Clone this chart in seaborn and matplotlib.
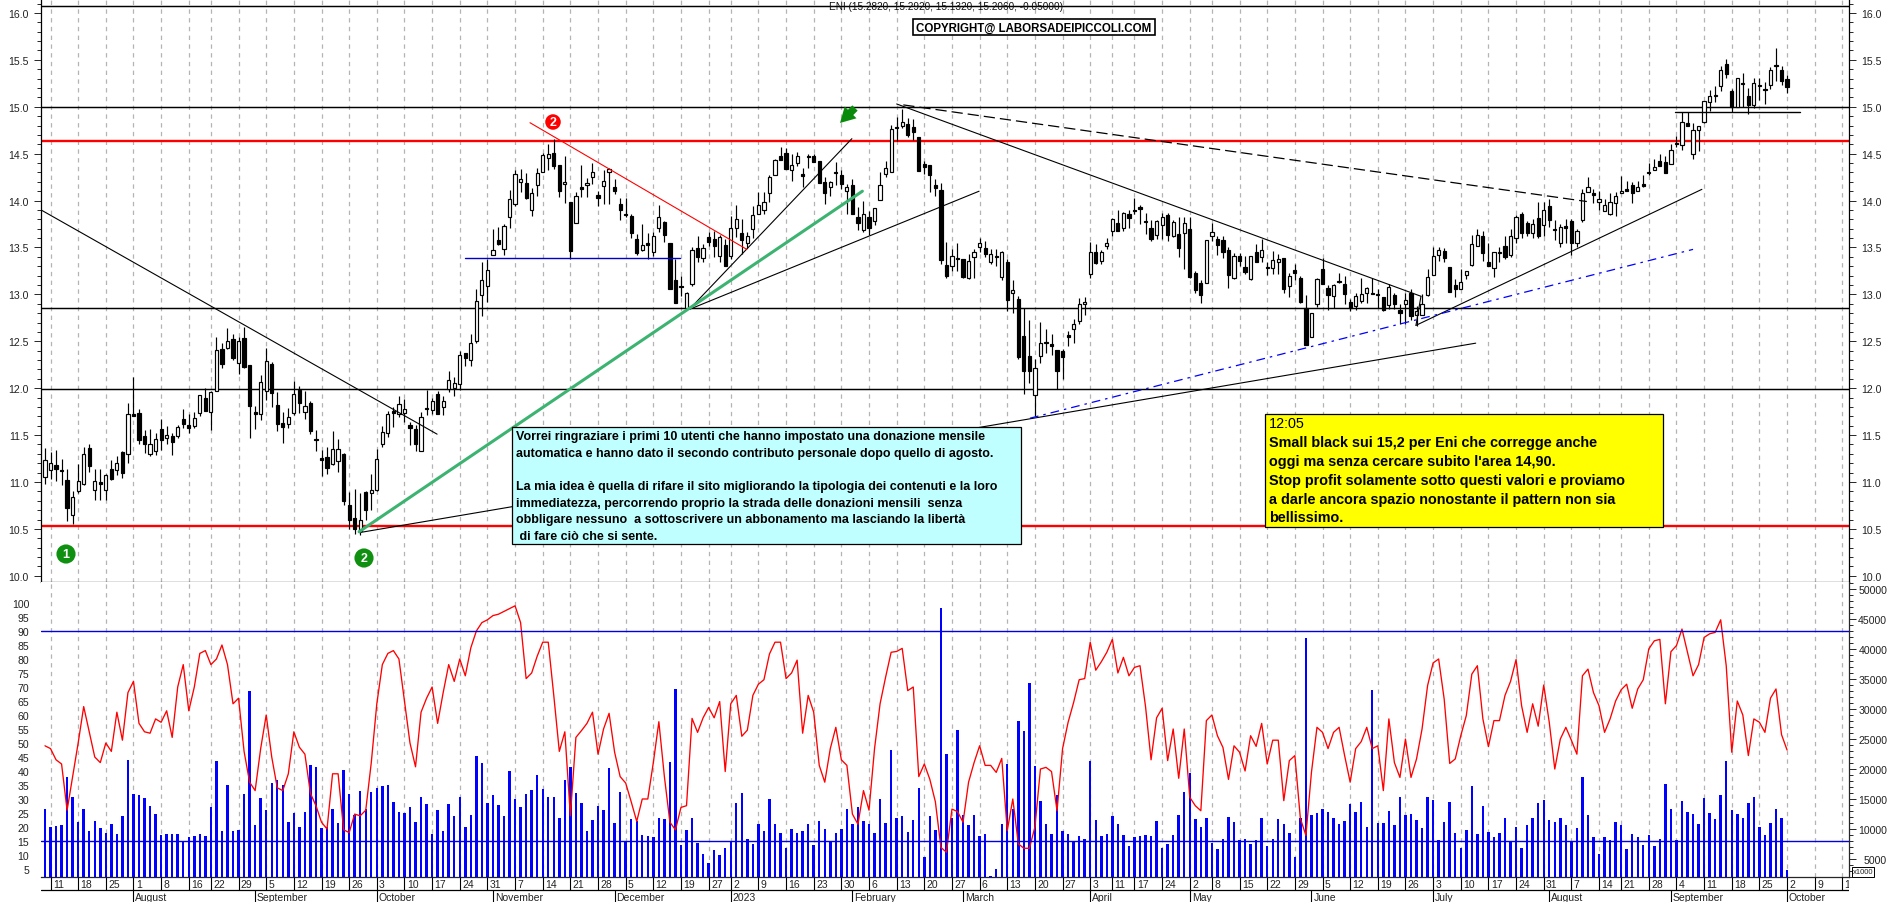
import numpy as np
import pandas as pd
import matplotlib
matplotlib.use("Agg")
import matplotlib.pyplot as plt
from matplotlib.patches import Rectangle
from matplotlib.ticker import MultipleLocator
import seaborn as sns

# candles (W = white body, B = black body)
kinds = ("WWBBBWWWBW" "BWBWBWBBBW" "WBWBWBBWWB" "WWBWBWBBBW" "WBBBWWBWBB"
         "BBWWBBBWBW" "WWWBWWBBWB" "WBWWWWBWWW" "WWBWWWWBWW" "WWBBWBWBWW"
         "BWWBBBBBWB" "WWBBBBWWBW" "BBWBWWBWWW" "WWWBBWWBBB" "BBWBBWBBWB"
         "WWWWBWBBBB" "BBBBWBBWWW" "BWBWBWBBBW" "WBBBBBWWWW" "BWWWBWBBBB"
         "BWWBWBWBBB" "WWBBBWBBWB" "WBWWBWBBBW" "WBBWBBBWWW" "BBBWBBWBWW"
         "WWWBBBWWWW" "BBWWBWWBBW" "BWBBWBBWWW" "BWWWWWBBWB" "BWBBWBWBWW"
         "WWWWBBWBBW" "WBWBBB")
body_top = [11.23,11.20,11.18,11.13,11.02,10.84,11.01,11.30,11.36,11.01,
            11.00,11.07,11.14,11.20,11.32,11.72,11.72,11.74,11.49,11.40,
            11.46,11.56,11.50,11.49,11.59,11.67,11.61,11.68,11.93,11.90,
            11.96,12.41,12.42,12.50,12.52,12.50,12.53,12.25,11.75,12.07,
            12.29,12.26,11.82,11.63,11.69,11.94,11.98,11.81,11.84,11.46,
            11.26,11.27,11.35,11.35,11.30,10.75,10.62,10.60,10.89,10.91,
            11.25,11.53,11.73,11.76,11.83,11.78,11.61,11.56,11.69,11.79,
            11.86,11.94,11.86,12.09,12.06,12.35,12.37,12.48,12.93,13.15,
            13.26,13.47,13.58,13.73,14.02,14.28,14.23,14.19,14.08,14.29,
            14.49,14.50,14.51,14.38,14.20,13.98,14.05,14.14,14.19,14.30,
            14.06,14.21,14.34,14.15,13.96,13.86,13.84,13.59,13.53,13.55,
            13.62,13.82,13.77,13.55,13.15,13.09,13.02,13.47,13.49,13.49,
            13.61,13.59,13.61,13.53,13.71,13.80,13.65,13.62,13.85,13.95,
            13.99,14.25,14.43,14.47,14.51,14.38,14.47,14.28,14.47,14.47,
            14.42,14.20,14.20,14.30,14.27,14.15,14.17,13.83,13.86,13.83,
            13.92,14.17,14.35,14.76,14.78,14.84,14.82,14.78,14.68,14.39,
            14.38,14.17,14.11,13.31,13.41,13.39,13.38,13.36,13.45,13.55,
            13.49,13.43,13.41,13.45,13.34,13.05,12.95,12.56,12.34,12.22,
            12.48,12.49,12.47,12.41,12.40,12.56,12.68,12.90,12.92,13.45,
            13.45,13.45,13.55,13.80,13.76,13.87,13.86,13.90,13.93,13.78,
            13.71,13.78,13.83,13.85,13.77,13.64,13.76,13.70,13.23,13.12,
            13.58,13.66,13.59,13.58,13.47,13.41,13.41,13.29,13.41,13.45,
            13.47,13.29,13.37,13.38,13.39,13.20,13.26,13.17,12.85,12.80,
            13.16,13.27,13.07,13.10,13.14,13.11,12.92,12.98,13.00,13.07,
            13.02,13.00,12.97,13.08,12.99,12.83,12.94,13.02,12.82,12.90,
            13.19,13.41,13.47,13.46,13.29,13.10,13.13,13.25,13.54,13.63,
            13.62,13.34,13.45,13.45,13.52,13.62,13.82,13.86,13.76,13.75,
            13.81,13.90,13.94,13.70,13.72,13.73,13.78,13.68,14.08,14.14,
            14.08,14.02,13.95,13.99,14.05,14.10,14.12,14.17,14.14,14.18,
            14.30,14.36,14.42,14.41,14.54,14.61,14.84,14.83,14.75,14.80,
            15.06,15.11,15.13,15.39,15.46,15.17,15.31,15.25,15.12,15.25,
            15.23,15.19,15.39,15.45,15.39,15.30]
body_bot = [11.05,11.13,11.14,11.12,10.72,10.65,10.90,10.98,11.17,10.92,
            10.98,10.92,11.03,11.13,11.10,11.30,11.70,11.45,11.41,11.30,
            11.33,11.45,11.47,11.43,11.49,11.62,11.58,11.60,11.74,11.76,
            11.75,11.97,12.26,12.43,12.32,12.27,12.23,11.81,11.73,11.73,
            11.97,11.95,11.62,11.59,11.62,11.74,11.84,11.75,11.54,11.45,
            11.23,11.15,11.19,11.22,10.80,10.60,10.50,10.48,10.70,10.88,
            10.91,11.40,11.52,11.74,11.72,11.74,11.58,11.41,11.33,11.78,
            11.77,11.73,11.80,11.99,12.00,12.05,12.32,12.30,12.50,12.99,
            13.09,13.42,13.54,13.48,13.82,13.96,14.20,14.03,13.90,14.17,
            14.31,14.45,14.37,14.10,14.18,13.46,13.76,14.12,14.17,14.25,
            14.03,14.16,14.31,14.10,13.90,13.85,13.65,13.44,13.47,13.53,
            13.45,13.71,13.63,13.06,12.91,13.08,12.85,13.11,13.40,13.39,
            13.56,13.52,13.41,13.30,13.41,13.71,13.58,13.55,13.70,13.86,
            13.90,14.08,14.27,14.43,14.34,14.33,14.40,14.26,14.46,14.41,
            14.19,14.08,14.15,14.29,14.18,14.10,13.86,13.76,13.69,13.71,
            13.78,14.01,14.28,14.31,14.77,14.80,14.70,14.73,14.32,14.36,
            14.27,14.13,13.37,13.20,13.30,13.38,13.19,13.17,13.40,13.50,
            13.43,13.34,13.40,13.19,12.94,13.02,12.33,12.18,12.18,11.93,
            12.34,12.48,12.45,12.18,12.33,12.55,12.63,12.72,12.90,13.22,
            13.33,13.36,13.52,13.68,13.68,13.71,13.81,13.89,13.91,13.77,
            13.59,13.63,13.74,13.63,13.62,13.49,13.65,13.19,13.05,12.99,
            13.12,13.62,13.53,13.45,13.21,13.18,13.36,13.24,13.16,13.35,
            13.40,13.28,13.28,13.34,13.06,13.09,13.23,12.92,12.46,12.55,
            12.90,13.11,12.99,12.98,13.13,13.00,12.85,12.88,12.93,13.02,
            13.00,12.99,12.83,12.89,12.90,12.80,12.90,12.77,12.78,12.78,
            12.99,13.21,13.42,13.39,13.03,13.06,13.06,13.21,13.31,13.52,
            13.44,13.30,13.28,13.44,13.40,13.42,13.60,13.65,13.65,13.65,
            13.62,13.74,13.79,13.69,13.55,13.71,13.55,13.55,13.79,14.09,
            14.06,13.99,13.89,13.86,13.97,14.08,14.10,14.08,14.10,14.16,
            14.29,14.33,14.37,14.29,14.39,14.60,14.59,14.80,14.50,14.75,
            14.84,15.05,15.11,15.22,15.35,15.00,15.00,15.24,15.02,15.02,
            15.22,15.18,15.23,15.43,15.27,15.21]
high = [11.36,11.32,11.34,11.24,11.14,10.90,11.19,11.37,11.41,11.14,
        11.14,11.09,11.23,11.28,11.33,11.84,12.12,11.78,11.55,11.57,
        11.52,11.67,11.60,11.52,11.61,11.78,11.73,11.75,11.93,12.00,
        11.97,12.55,12.48,12.64,12.58,12.55,12.65,12.25,11.81,12.14,
        12.43,12.28,11.96,11.75,11.79,12.08,12.02,11.97,11.86,11.55,
        11.34,11.37,11.54,11.46,11.31,10.89,10.93,10.88,10.90,11.08,
        11.35,11.60,11.76,11.80,11.92,11.88,11.64,11.61,11.75,11.98,
        11.90,11.97,11.92,12.18,12.12,12.40,12.38,12.58,13.06,13.35,
        13.38,13.70,13.72,13.75,14.11,14.33,14.34,14.29,14.13,14.35,
        14.51,14.60,14.66,14.38,14.48,13.99,14.09,14.38,14.24,14.40,
        14.10,14.33,14.35,14.23,14.03,14.03,13.86,13.64,13.75,13.65,
        13.66,13.95,13.78,13.55,13.38,13.20,13.03,13.50,13.62,13.54,
        13.66,13.68,13.63,13.59,13.84,13.95,13.80,13.66,13.94,14.09,
        14.09,14.27,14.44,14.57,14.56,14.50,14.52,14.35,14.50,14.50,
        14.42,14.25,14.21,14.41,14.33,14.18,14.23,13.93,14.00,13.89,
        13.92,14.30,14.42,14.81,14.89,14.98,14.88,14.87,14.68,14.42,
        14.38,14.23,14.19,13.56,13.48,13.55,13.38,13.43,13.48,13.60,
        13.57,13.48,13.48,13.46,13.38,13.15,12.98,12.85,12.73,12.31,
        12.71,12.63,12.58,12.41,12.42,12.61,12.74,12.96,12.97,13.56,
        13.54,13.47,13.60,13.81,13.90,13.88,13.90,14.03,13.95,13.87,
        13.79,13.79,13.87,13.87,13.79,13.82,13.83,13.82,13.25,13.15,
        13.58,13.76,13.62,13.62,13.50,13.44,13.44,13.41,13.41,13.54,
        13.59,13.35,13.46,13.43,13.39,13.23,13.32,13.20,12.99,12.80,
        13.17,13.39,13.10,13.11,13.23,13.20,12.95,13.01,13.18,13.08,
        13.18,13.06,12.97,13.11,13.01,12.90,13.02,13.06,12.88,13.00,
        13.27,13.51,13.50,13.49,13.29,13.16,13.27,13.25,13.63,13.70,
        13.68,13.55,13.45,13.50,13.62,13.70,13.85,13.88,13.78,13.80,
        13.98,13.98,14.02,13.79,13.75,13.80,13.80,13.70,14.12,14.25,
        14.12,14.10,14.02,14.08,14.09,14.26,14.21,14.20,14.21,14.27,
        14.40,14.44,14.50,14.48,14.60,14.69,14.94,14.94,14.83,14.80,
        15.06,15.18,15.22,15.44,15.51,15.19,15.31,15.36,15.20,15.31,
        15.31,15.26,15.42,15.63,15.43,15.34]
low = [10.98,11.03,11.01,10.97,10.58,10.55,10.88,10.97,11.11,10.81,
       10.81,10.81,11.02,11.07,11.04,11.20,11.70,11.40,11.31,11.28,
       11.29,11.34,11.41,11.29,11.47,11.58,11.52,11.58,11.70,11.76,
       11.55,11.97,12.22,12.42,12.30,12.15,12.22,11.47,11.57,11.66,
       11.87,11.80,11.54,11.42,11.58,11.71,11.74,11.67,11.51,11.33,
       11.06,11.08,11.18,11.11,10.75,10.50,10.45,10.44,10.60,10.70,
       10.90,11.37,11.48,11.59,11.69,11.64,11.39,11.33,11.33,11.71,
       11.73,11.73,11.71,11.96,11.92,11.98,12.24,12.24,12.48,12.77,
       12.92,13.42,13.53,13.42,13.71,13.94,14.09,14.02,13.84,14.05,
       14.31,14.33,14.34,14.04,13.97,13.38,13.76,14.04,14.04,14.18,
       13.94,13.96,13.96,14.07,13.79,13.82,13.60,13.42,13.46,13.38,
       13.41,13.67,13.56,13.06,12.91,12.98,12.84,13.09,13.34,13.34,
       13.52,13.40,13.35,13.30,13.38,13.61,13.43,13.49,13.60,13.86,
       13.86,13.98,14.27,14.43,14.34,14.21,14.37,14.15,14.35,14.41,
       14.19,13.96,14.05,14.17,14.12,13.86,13.86,13.69,13.67,13.63,
       13.74,14.01,14.25,14.31,14.64,14.77,14.68,14.65,14.32,14.28,
       14.09,14.05,13.32,13.17,13.25,13.25,13.18,13.16,13.17,13.45,
       13.40,13.32,13.30,13.15,12.82,12.80,12.31,11.94,12.06,11.70,
       12.27,12.38,12.35,11.99,12.10,12.45,12.48,12.68,12.78,13.17,
       13.32,13.32,13.48,13.62,13.68,13.68,13.71,13.86,13.75,13.64,
       13.57,13.59,13.59,13.57,13.61,13.40,13.27,13.18,13.02,12.91,
       13.12,13.57,13.42,13.39,13.07,13.16,13.30,13.22,13.15,13.34,
       13.34,13.21,13.22,13.22,13.02,12.97,13.15,12.91,12.46,12.55,
       12.87,13.11,12.83,12.85,13.12,12.90,12.82,12.83,12.91,12.91,
       13.00,12.86,12.82,12.84,12.84,12.68,12.68,12.73,12.66,12.78,
       12.98,13.21,13.36,13.34,13.03,12.97,13.06,13.16,13.30,13.52,
       13.36,13.30,13.19,13.34,13.38,13.40,13.55,13.60,13.62,13.60,
       13.60,13.62,13.72,13.58,13.50,13.55,13.42,13.50,13.77,14.09,
       13.97,13.90,13.89,13.85,13.84,14.08,14.10,13.97,14.10,14.15,
       14.27,14.33,14.37,14.29,14.39,14.57,14.54,14.80,14.44,14.53,
       14.83,14.96,15.05,15.17,15.31,14.94,15.00,15.00,14.92,14.99,
       15.07,15.03,15.19,15.27,15.23,15.15]

# volume in thousands
volume_k = [13.4,10.3,10.5,10.6,18.6,15.3,11.1,13.4,9.7,11.3,
            10.1,9.3,10.8,9.1,12.1,21.5,15.9,15.7,15.1,13.9,
            12.5,9.0,9.2,9.1,9.1,7.8,8.7,8.9,9.2,8.9,
            13.6,21.3,9.7,17.4,9.6,9.9,15.9,33.0,10.6,15.1,
            13.2,17.7,18.2,17.3,11.1,12.6,10.3,12.9,20.7,20.3,
            10.1,10.3,13.4,11.0,19.9,15.9,12.3,16.3,13.4,16.2,
            16.8,17.2,17.3,14.5,12.8,12.7,13.6,11.1,15.4,14.2,
            9.2,13.2,9.6,14.2,12.2,15.3,10.4,12.4,22.2,
            21.0,14.4,15.6,14.0,12.2,19.6,15.0,13.7,15.8,16.5,
            19.0,16.7,15.4,15.4,11.8,18.2,20.4,16.0,14.3,9.6,
            11.5,13.9,13.2,20.2,11.0,16.1,7.9,11.7,11.4,9.0,
            8.9,8.7,11.8,11.7,21.1,33.4,7.4,9.9,11.8,7.6,
            5.8,4.4,6.5,5.7,6.8,7.9,14.4,16.0,8.3,7.5,
            10.9,9.7,15.0,10.8,9.4,6.9,10.0,9.3,9.7,10.9,
            7.3,11.3,10.0,7.9,9.4,10.0,13.3,10.9,13.6,11.3,
            10.9,9.3,15.0,11.0,23.2,11.8,12.2,9.5,11.5,16.8,
            5.4,12.2,9.9,46.8,22.5,11.8,26.5,
            12.4,10.7,12.4,8.8,9.2,2.1,3.3,10.9,20.9,13.3,
            28.0,26.3,34.4,20.5,14.6,10.9,9.2,15.7,9.7,9.2,
            7.9,8.8,8.3,21.4,11.5,8.8,9.2,12.1,10.9,9.0,
            7.2,8.6,8.8,9.0,8.8,11.3,6.8,7.5,9.0,12.4,
            16.1,19.3,11.7,10.3,11.8,7.6,6.7,8.4,12.0,11.2,
            8.1,8.3,7.5,8.1,11.8,7.1,8.4,11.7,10.9,9.4,
            5.3,11.8,41.8,12.3,12.7,13.4,12.8,11.8,10.8,11.3,
            14.1,12.8,14.5,10.3,33.1,11.0,11.0,13.0,10.7,15.3,
            12.4,12.5,11.5,10.1,15.3,
            14.9,8.1,11.2,14.5,9.4,6.9,9.8,17.2,9.2,
            13.9,9.5,8.6,9.4,11.8,7.9,10.4,6.9,10.7,11.9,
            14.4,14.8,11.5,11.2,11.8,10.6,7.9,10.2,18.7,12.3,
            8.7,5.9,8.7,8.1,11.1,10.6,6.6,9.2,8.7,7.3,
            9.0,7.2,8.3,17.5,13.4,8.1,14.6,12.8,12.5,10.8,
            15.1,12.7,11.7,15.7,21.3,13.2,12.5,11.8,14.3,15.4,
            10.4,9.0,11.0,13.3,11.8,3.2]

# red oscillator
oscillator = [49,48,44,42.5,26,38,50,63,54,45,
              43,50,47,61,51,68,72,57,54,53.5,
              58.6,57.4,61.5,52,70,78,61.5,70,82,83,
              78,80,85,78,64,66,47,36,33,48,
              60,45,34,33,39,54,48.5,46,32,27.6,
              21.7,19.3,39,39,19,18,24.6,24,26,43,
              64,78,82,83,80,65,50,41.5,61,66,
              70,57,68,78,72,80,74,84,90,93,
              94,95.5,96,97,98,99,93,73,75,81,
              86,86,67,47,54,24,52,54.4,57,61,
              46,55,60.6,46.7,38,35.7,29,22,30,30,
              43,57.6,38,21.7,19,27,27.6,58.8,53.8,59,
              62.7,59,64.8,39.8,64,67,52.4,54.6,67,71,
              72.6,81.8,86,86,73,75,79.6,53.5,67,61,
              42,36,48,55.6,44,42,24.6,21,33,26,
              48,64,73.5,82.4,82.7,83.8,68.7,70,38,42.5,
              37,29,12.7,11,26.4,25.5,21.7,36,43,49,
              42,42,39.5,44.5,18.7,30,14,12.4,12.4,20,
              40.7,41.3,39.8,25.8,48,57.4,64.5,72.6,73,86,
              76,79,82.4,87,75,80.6,74,77,77.6,63,
              44,59,62.4,43.7,55,37.4,55,30.6,27.6,25.8,
              58,60,52.6,48.4,37,49,46.7,40,52.6,48.8,
              57,42.5,51,51,29.4,43.7,45.5,23,17,39.5,
              55.6,53.8,48,53.8,55.6,45.5,36,48,50.5,55.6,
              48,49,33,58.6,43,37.7,51.4,37.7,44.3,55,
              70.5,78.6,80,65.7,42.7,44.3,52.6,59.8,74.6,77.6,
              58.6,48.7,58,58,67,72,79.8,63.3,53.8,64,
              56,70.7,57.4,40.7,51.4,55.6,51,46,74,76.4,
              68,63.3,53.8,58.6,65,69,71,62.4,69.3,72.6,
              83.6,86.5,87,64,82.6,84.8,90.7,82.4,74,78,
              87.7,89,89.5,94,77.6,46.7,65,60,45.5,58.6,
              57.4,53.8,66,69.3,53,47.5]

# date axis (bar number of every weekly and monthly tick)
week_bars = [1,6,11,16,21,26,30,35,40,45,50,55,60,65,70,75,80,85,90,95,
             100,105,110,115,120,124,129,134,139,144,149,154,159,164,169,174,179,184,189,193,
             197,202,207,211,216,221,226,231,236,241,246,251,256,261,266,271,276,281,285,290,
             295,300,305,310,315,320,325]
week_labels = ["11","18","25","1","8","16","22","29","5","12","19","26","3","10","17","24","31","7","14","21",
               "28","5","12","19","27","2","9","16","23","30","6","13","20","27","6","13","20","27","3","11",
               "17","24","2","8","15","22","29","5","12","19","26","3","10","17","24","31","7","14","21","28",
               "4","11","18","25","2","9","16"]
month_bars = [16,38,60,81,103,124,146,166,189,207,229,251,272,294,315]
month_labels = ["August","September","October","November","December","2023","February","March",
                "April","May","June","July","August","September","October"]

# levels and trendlines, as (bar, price)
black_levels = [16.07, 15.0, 12.85, 11.99]
red_levels = [14.635, 10.53]
osc_levels = [15, 90]
thin_lines = [((-0.7, 13.9), (70.9, 11.51)), ((116.5, 12.84), (145.9, 14.66)),
              ((116.5, 12.84), (168.9, 14.1)), ((154, 15.03), (248.8, 12.98)),
              ((248.8, 12.98), (247.9, 12.67)), ((247.9, 12.67), (299.6, 14.12)),
              ((56.8, 10.46), (258.7, 12.48))]
red_trend = ((87.7, 14.83), (126.9, 13.48))
green_trend = ((56.8, 10.47), (147.8, 14.1))
dashed_trend = ((155.2, 15.02), (278.8, 13.99))
blue_dashed_trend = ((178.1, 11.68), (298, 13.48))
blue_support = ((75.9, 13.385), (114.8, 13.385))
black_support = ((294.8, 14.94), (317.4, 14.94))

cyan_lines = ["Vorrei ringraziare i primi 10 utenti che hanno impostato una donazione mensile",
              "automatica e hanno dato il secondo contributo personale dopo quello di agosto.",
              "",
              "La mia idea è quella di rifare il sito migliorando la tipologia dei contenuti e la loro",
              "immediatezza, percorrendo proprio la strada delle donazioni mensili  senza",
              "obbligare nessuno  a sottoscrivere un abbonamento ma lasciando la libertà",
              " di fare ciò che si sente."]
yellow_lines = ["12:05",
                "Small black sui 15,2 per Eni che corregge anche",
                "oggi ma senza cercare subito l'area 14,90.",
                "Stop profit solamente sotto questi valori e proviamo",
                "a darle ancora spazio nonostante il pattern non sia",
                "bellissimo."]

sns.set_theme(style="white")
plt.rcParams['font.family'] = ['Liberation Sans', 'DejaVu Sans']
plt.rcParams['axes.linewidth'] = 0.9

W, H = 1890, 903
fig = plt.figure(figsize=(W / 100, H / 100), dpi=100)


def px_axes(x0, y0, x1, y1):
    # axes from pixel box, y counted from the top
    return fig.add_axes([x0 / W, 1 - y1 / H, (x1 - x0) / W, (y1 - y0) / H])


X_LIM = (-0.72, 326.2)
GRID = dict(color="#b4b4b4", linestyle=(0, (3.5, 3.5)), linewidth=0.9)

# ---- price panel
ax = px_axes(41, 0, 1849, 583)
ax.set_xlim(X_LIM)
ax.set_ylim(9.934, 16.149)
ax.set_xticks(week_bars)
ax.tick_params(axis='x', length=0, labelbottom=False)
ax.grid(axis='x', **GRID)
ax.set_axisbelow(True)

ax.yaxis.set_major_locator(MultipleLocator(0.5))
ax.yaxis.set_minor_locator(MultipleLocator(0.1))
ax.yaxis.set_major_formatter(lambda v, pos: "%.1f" % v)
ax.tick_params(axis='y', which='major', left=True, right=True, labelleft=True, labelright=True,
               labelsize=7.6, length=5, width=0.7, pad=4, labelcolor="#222222")
ax.tick_params(axis='y', which='minor', left=True, right=True, length=3, width=0.7)
for s in ax.spines.values():
    s.set_color("black")
ax.spines['top'].set_visible(False)

bars = np.arange(len(kinds))
is_white = np.array([k == "W" for k in kinds])
body_top = np.array(body_top)
body_bot = np.array(body_bot)
df = pd.DataFrame({"bar": bars, "top": body_top, "bot": body_bot, "high": high, "low": low})

for lev in black_levels:
    ax.axhline(lev, color="black", lw=1.05, zorder=2)
for lev in red_levels:
    ax.axhline(lev, color="#ff0000", lw=1.7, zorder=2)

ax.vlines(df["bar"], df["low"], df["high"], color="black", lw=0.85, zorder=3)
body_h = np.maximum(body_top - body_bot, 0.012)
ax.bar(bars, body_h, bottom=body_bot, width=0.58, color=np.where(is_white, "white", "black"),
       edgecolor="black", linewidth=0.85, zorder=4)

for (a, b) in thin_lines:
    ax.plot([a[0], b[0]], [a[1], b[1]], color="black", lw=0.8, zorder=5)
ax.plot(*zip(*red_trend), color="#ff0000", lw=0.8, zorder=5)
ax.plot(*zip(*green_trend), color="#3cb371", lw=2.2, zorder=5)
ax.plot(*zip(*dashed_trend), color="black", lw=0.9, ls=(0, (9, 4)), zorder=5)
ax.plot(*zip(*blue_dashed_trend), color="#0000ff", lw=0.9, ls=(0, (7, 4, 2, 4)), zorder=5)
ax.plot(*zip(*blue_support), color="#0000c8", lw=1.0, zorder=5)
ax.plot(*zip(*black_support), color="black", lw=1.0, zorder=5)

# ---- volume + oscillator panel
ax_vol = px_axes(41, 583, 1849, 878)
plot_vol = pd.DataFrame({"bar": bars, "vol": volume_k})
sns.barplot(data=plot_vol, x="bar", y="vol", native_scale=True, color="#0000ff", saturation=1,
            width=0.44, linewidth=0, errorbar=None, ax=ax_vol, zorder=3)
ax_vol.set_xlim(X_LIM)
ax_vol.set_ylim(2.0, 51.17)
ax_vol.set_xlabel("")
ax_vol.set_ylabel("")
ax_vol.set_xticks(week_bars)
ax_vol.set_xticklabels([])
ax_vol.tick_params(axis='x', length=0)
ax_vol.grid(axis='x', **GRID)
ax_vol.set_axisbelow(True)
ax_vol.spines['left'].set_visible(False)
ax_vol.spines['top'].set_visible(False)

ax_osc = ax_vol.twinx()
ax_osc.patch.set_alpha(0)
sns.lineplot(x=bars, y=oscillator, color="#ff0000", linewidth=0.95, errorbar=None, ax=ax_osc, zorder=4)
ax_osc.set_xlim(X_LIM)
ax_osc.set_ylim(2.14, 107.5)
ax_osc.set_ylabel("")
ax_osc.yaxis.tick_left()
ax_osc.set_yticks(np.arange(5, 101, 5))
ax_osc.tick_params(axis='y', length=0, labelsize=7.6, pad=8.5, labelcolor="#222222")
for lev in osc_levels:
    ax_osc.axhline(lev, color="#0000e0", lw=1.0, zorder=5)
ax_osc.grid(False)
for s in ax_osc.spines.values():
    s.set_visible(False)

# twinx moved the volume ticks, put them back on the right
ax_vol.yaxis.tick_right()
ax_vol.set_yticks(np.arange(5, 51, 5))
ax_vol.set_yticklabels(["%d" % (v * 1000) for v in np.arange(5, 51, 5)], ha="right")
ax_vol.yaxis.set_minor_locator(MultipleLocator(1))
ax_vol.tick_params(axis='y', which='major', right=True, left=False, length=5, width=0.7, labelsize=7.6, pad=22.5,
                   labelcolor="#222222")
ax_vol.tick_params(axis='y', which='minor', right=True, left=False, length=3, width=0.7)

# ---- date rows under the panels
ax_date = px_axes(41, 878, 1849, 903)
ax_date.set_xlim(X_LIM)
ax_date.set_ylim(25, 0)
ax_date.axis("off")
ax_date.axhline(13, color="black", lw=0.9)
ax_date.vlines(week_bars, 0, 13, color="black", lw=0.8)
ax_date.vlines(month_bars, 13, 25, color="black", lw=0.8)
for b, t in zip(week_bars, week_labels):
    ax_date.text(b + 0.42, 7, t, fontsize=7.5, ha="left", va="center", color="#222222", clip_on=True)
for b, t in zip(month_bars, month_labels):
    ax_date.text(b + 0.35, 20, t, fontsize=7.5, ha="left", va="center", color="#222222", clip_on=True)

# ---- notes on top, in pixels
ov = fig.add_axes([0, 0, 1, 1])
ov.set_xlim(0, W)
ov.set_ylim(H, 0)
ov.axis("off")
ov.patch.set_alpha(0)

ov.text(946, 7, "ENI (15.2820, 15.2920, 15.1320, 15.2060, -0.05000)", fontsize=7.2, ha="center", va="center",
        color="#111111")
ov.add_patch(Rectangle((913, 20), 242, 16, fc="white", ec="black", lw=1.2))
ov.text(1034, 28.5, "COPYRIGHT@ LABORSADEIPICCOLI.COM", fontsize=8.3, fontweight="bold", ha="center", va="center",
        color="black")

ov.add_patch(Rectangle((512, 428), 509, 117, fc="#bfffff", ec="black", lw=0.9))
for i, line in enumerate(cyan_lines):
    ov.text(516, 437 + i * 16.7, line, fontsize=9.0, fontweight="bold", ha="left", va="center", color="black")

ov.add_patch(Rectangle((1265, 415), 398, 113, fc="#ffff00", ec="black", lw=0.9))
for i, line in enumerate(yellow_lines):
    ov.text(1269, 424 + i * 18.9, line, fontsize=10.4, fontweight="bold" if i else "normal", ha="left", va="center",
            color="black")

# round number badges
for x, y, col, size, num in [(66, 555, "#109010", 190, "1"), (364, 559, "#109010", 190, "2"),
                             (553, 123, "#ff0000", 125, "2")]:
    ov.scatter([x], [y], s=size, color=col, edgecolors="none", zorder=6)
    ov.text(x, y + 0.5, num, fontsize=9, fontweight="bold", color="white", ha="center", va="center", zorder=7)

ov.annotate("", xy=(840, 124), xytext=(855, 109),
            arrowprops=dict(arrowstyle="simple,head_length=0.9,head_width=1.0,tail_width=0.45", color="#0a8a0a",
                            lw=0, mutation_scale=12, shrinkA=0, shrinkB=0))

# x1000 box
ov.add_patch(Rectangle((1852, 868), 22, 10, fc="white", ec="black", lw=0.7))
ov.text(1863, 873, "x1000", fontsize=5.5, ha="center", va="center", color="#222222")

fig.savefig("out.png", dpi=100)
